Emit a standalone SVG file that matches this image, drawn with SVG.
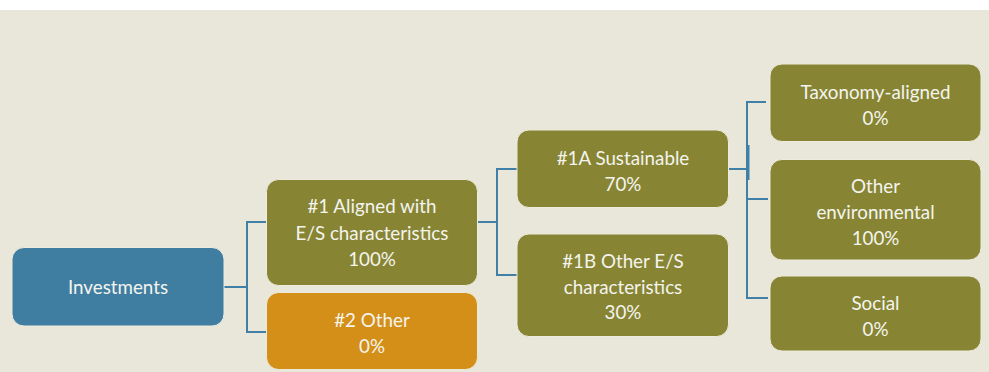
<svg xmlns="http://www.w3.org/2000/svg" width="989" height="372" viewBox="0 0 989 372">
<style>
.bg{fill:#E9E6DA}
.box{stroke:#EDEBDD;stroke-width:1}
.olive{fill:#878533}
.blue{fill:#407EA1}
.orange{fill:#D48F18}
text{font-family:Lato,"Open Sans",sans-serif;font-size:18.8px;fill:#F4F4EE;text-anchor:middle}
.conn{stroke:#4080A6;stroke-width:2;fill:none}
</style>
<rect x="0" y="0" width="989" height="372" fill="#FFFFFF"/>
<rect class="bg" x="0" y="10" width="989" height="362"/>
<g id="connectors">
<polyline class="conn" points="224,287 247,287"/>
<polyline class="conn" points="266,222 247,222 247,332 266,332"/>
<polyline class="conn" points="478,222 497,222"/>
<polyline class="conn" points="517,169 497,169 497,275 517,275"/>
<polyline class="conn" points="729,169 748,169"/>
<polyline class="conn" points="766,102 747,102 747,298 768,298"/>
<polyline class="conn" points="747,199 768,199"/>
<line class="conn" x1="748.5" y1="145" x2="748.5" y2="180"/>
</g>
<g id="investments">
<rect class="box blue" x="12" y="247.5" width="212" height="78.5" rx="12"/>
<text x="118" y="294">Investments</text>
</g>
<g id="aligned">
<rect class="box olive" x="266.5" y="179.5" width="211" height="106" rx="12"/>
<text x="372" y="213">#1 Aligned with</text>
<text x="372" y="239.5">E/S characteristics</text>
<text x="372" y="265.5">100%</text>
</g>
<g id="other2">
<rect class="box orange" x="266.5" y="292.5" width="211" height="77" rx="12"/>
<text x="372" y="326.5">#2 Other</text>
<text x="372" y="352.5">0%</text>
</g>
<g id="sustainable">
<rect class="box olive" x="517" y="130" width="211.5" height="77.5" rx="12"/>
<text x="623" y="165">#1A Sustainable</text>
<text x="623" y="191">70%</text>
</g>
<g id="otherES">
<rect class="box olive" x="517" y="234" width="211.5" height="102.5" rx="12"/>
<text x="623" y="267.5">#1B Other E/S</text>
<text x="623" y="293.5">characteristics</text>
<text x="623" y="319">30%</text>
</g>
<g id="taxonomy">
<rect class="box olive" x="770" y="64" width="211" height="77.5" rx="12"/>
<text x="875.5" y="98.5">Taxonomy-aligned</text>
<text x="875.5" y="124.5">0%</text>
</g>
<g id="otherenv">
<rect class="box olive" x="770" y="159.5" width="211" height="100.5" rx="12"/>
<text x="875.5" y="193">Other</text>
<text x="875.5" y="218.5">environmental</text>
<text x="875.5" y="244.5">100%</text>
</g>
<g id="social">
<rect class="box olive" x="770" y="276" width="211" height="75" rx="12"/>
<text x="875.5" y="310">Social</text>
<text x="875.5" y="336">0%</text>
</g>
</svg>
